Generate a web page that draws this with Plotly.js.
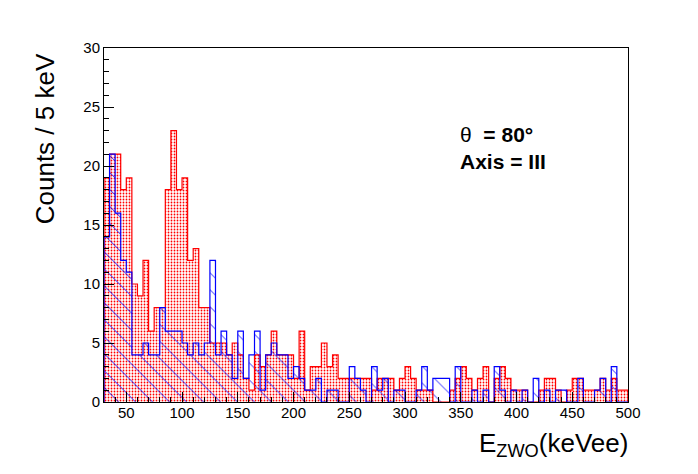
<!DOCTYPE html>
<html><head><meta charset="utf-8">
<script src="https://cdn.plot.ly/plotly-3.0.1.min.js"></script>
<style>html,body{margin:0;padding:0;background:#fff}#chart{width:698px;height:474px}</style>
</head><body><div id="chart"></div>
<script>
const binStart = 30;
const binWidth = 5;
const redCounts = [19,21,21,18,19,10,9,12,6,8, 8,18,23,18,19,12,13,8,8,5, 5,5,4,5,4,2,1,4,3,4, 6,4,4,4,2,6,1,3,3,5, 3,4,2,2,2,2,2,2,1,2, 2,2,1,2,3,2,1,1,1,0, 0,0,1,2,3,2,1,2,3,0, 2,3,2,1,1,1,0,0,1,2, 2,1,0,1,2,2,1,1,1,2, 1,2,1,1];
const blueCounts = [14,21,16,12,11,4,4,5,4,4, 8,6,6,6,5,4,5,4,5,12, 4,6,4,2,6,2,4,6,1,4, 5,4,4,2,3,2,1,1,2,0, 1,1,0,0,3,2,1,0,3,1, 2,0,1,1,0,0,1,3,1,2, 2,2,0,3,0,0,1,0,1,0, 3,1,0,1,0,1,0,2,0,1, 0,1,1,0,0,2,0,0,1,2, 0,3,0,0];
const xTickVals = [50,100,150,200,250,300,350,400,450,500];
const xTickText = ["50","100","150","200","250","300","350","400","450","500"];
const yTickVals = [0,5,10,15,20,25,30];
const yTickText = ["0","5","10","15","20","25","30"];

function centers(vals){ return vals.map((v,i)=>binStart + binWidth*(i+0.5)); }
function step(vals){
  const xs=[binStart], ys=[0];
  vals.forEach((v,i)=>{ xs.push(binStart+i*binWidth); ys.push(v); });
  xs.push(binStart+vals.length*binWidth); ys.push(0);
  return {xs, ys};
}
const rs = step(redCounts), bs = step(blueCounts);
const FONT = 'Liberation Sans, Arial, Helvetica, sans-serif';
const NB = '\u00a0';

const traces = [
  {type:'bar', x:centers(redCounts), y:redCounts, width:binWidth,
   marker:{color:'#ff0000', line:{width:0},
     pattern:{shape:'.', size:3, solidity:0.28, fgcolor:'#ff0000', bgcolor:'rgba(0,0,0,0)', fillmode:'replace'}},
   hoverinfo:'skip'},
  {type:'scatter', mode:'lines', x:rs.xs, y:rs.ys, line:{shape:'hv', color:'#ff0000', width:1.2}, hoverinfo:'skip'},
  {type:'bar', x:centers(blueCounts), y:blueCounts, width:binWidth,
   marker:{color:'#0000ff', line:{width:0},
     pattern:{shape:'\\', size:12, solidity:0.07, fgcolor:'#0000ff', bgcolor:'rgba(0,0,0,0)', fillmode:'replace'}},
   hoverinfo:'skip'},
  {type:'scatter', mode:'lines', x:bs.xs, y:bs.ys, line:{shape:'hv', color:'#0000ff', width:1.2}, hoverinfo:'skip'}
];

const layout = {
  width:698, height:474,
  margin:{l:104, r:70, t:48, b:72, pad:0},
  paper_bgcolor:'#ffffff', plot_bgcolor:'#ffffff',
  showlegend:false, barmode:'overlay', bargap:0,
  font:{family:FONT, color:'#000'},
  xaxis:{range:[30,500], showline:true, mirror:true, linecolor:'#000', linewidth:1,
    ticks:'inside', ticklen:10, tickcolor:'#000', tickwidth:1,
    tickmode:'array', tickvals:xTickVals, ticktext:xTickText, ticklabelstandoff:-3,
    tickfont:{size:15, family:FONT, color:'#000'},
    showgrid:false, zeroline:false, fixedrange:true,
    minor:{tickmode:'linear', tick0:0, dtick:10, ticks:'inside', ticklen:5, tickcolor:'#000', tickwidth:1, showgrid:false}},
  yaxis:{range:[0,30], showline:true, mirror:true, linecolor:'#000', linewidth:1,
    ticks:'inside', ticklen:10, tickcolor:'#000', tickwidth:1,
    tickmode:'array', tickvals:yTickVals, ticktext:yTickText,
    tickfont:{size:15, family:FONT, color:'#000'},
    showgrid:false, zeroline:false, fixedrange:true,
    minor:{tickmode:'linear', tick0:0, dtick:1, ticks:'inside', ticklen:5, tickcolor:'#000', tickwidth:1, showgrid:false}},
  annotations:[
    {text:'Counts / 5 keV', xref:'paper', yref:'paper', x:-0.1126, y:0.745, xanchor:'center', yanchor:'middle',
     textangle:-90, showarrow:false, font:{size:26, family:FONT, color:'#000'}},
    {text:'E<sub>ZWO</sub>(keVee)', xref:'paper', yref:'paper', x:1.004, y:-0.12, xanchor:'right', yanchor:'middle',
     showarrow:false, font:{size:26, family:FONT, color:'#000'}},
    {text:'θ'+NB+NB+'<b>='+NB+'80°</b><br><b>Axis = III</b>', xref:'paper', yref:'paper', x:0.675, y:0.717,
     xanchor:'left', yanchor:'middle', align:'left',
     showarrow:false, font:{size:21, family:FONT, color:'#000'}}
  ]
};
Plotly.newPlot('chart', traces, layout, {staticPlot:true, displayModeBar:false});
</script></body></html>
